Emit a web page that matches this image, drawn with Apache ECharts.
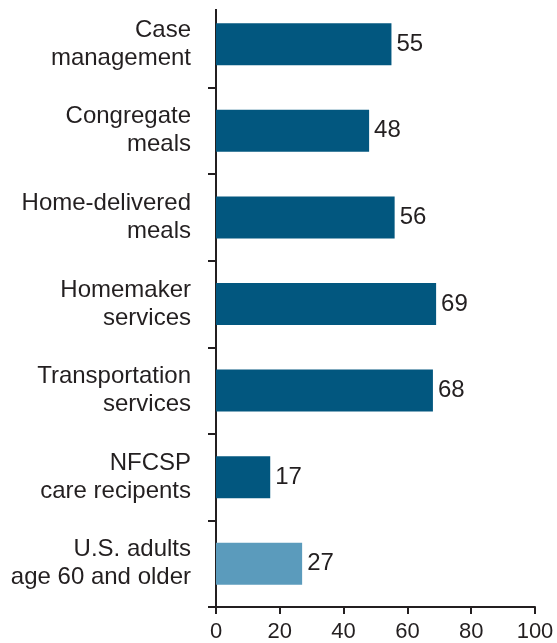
<!DOCTYPE html>
<html>
<head>
<meta charset="utf-8">
<script src="https://cdn.jsdelivr.net/npm/echarts@6/dist/echarts.min.js"></script>
<style>html,body{margin:0;padding:0;background:#fff;}#c{width:557px;height:643px;}</style>
</head>
<body>
<div id="c"></div>
<script>
const categories = ["Case\nmanagement", "Congregate\nmeals", "Home-delivered\nmeals", "Homemaker\nservices", "Transportation\nservices", "NFCSP\ncare recipents", "U.S. adults\nage 60 and older"];
const values = [55, 48, 56, 69, 68, 17, 27];
const highlight = [false, false, false, false, false, false, true];
const xTicks = [0, 20, 40, 60, 80, 100];

const dark = '#02577f', light = '#5b9bbc', ink = '#231f20';
const font = '"Liberation Sans", Arial, Helvetica, sans-serif';

const chart = echarts.init(document.getElementById('c'), null, {renderer: 'canvas'});
chart.setOption({
  animation: false,
  grid: {left: 216, right: 22, top: 1, bottom: 34, containLabel: false},
  xAxis: {
    type: 'value', min: xTicks[0], max: xTicks[xTicks.length - 1], interval: 20,
    axisLine: {show: true, lineStyle: {color: ink, width: 2}},
    axisTick: {show: true, length: 7, lineStyle: {color: ink, width: 2}},
    splitLine: {show: false},
    axisLabel: {color: ink, fontSize: 22, fontFamily: font, margin: 14}
  },
  yAxis: {
    type: 'category', data: categories, inverse: true,
    axisLine: {show: true, lineStyle: {color: ink, width: 2}},
    axisTick: {show: true, length: 8, lineStyle: {color: ink, width: 2}},
    axisLabel: {color: ink, fontSize: 24, lineHeight: 28, fontFamily: font, margin: 25, align: 'right'}
  },
  series: [{
    type: 'bar',
    barWidth: 42,
    data: values.map((v, i) => ({value: v, itemStyle: {color: highlight[i] ? light : dark}})),
    label: {show: true, position: 'right', distance: 5, color: ink, fontSize: 24, fontFamily: font}
  }],
  graphic: [{type: 'rect', shape: {x: 200, y: 0, width: 20, height: 9}, style: {fill: '#fff'}, z: 100}]
});
</script>
</body>
</html>
